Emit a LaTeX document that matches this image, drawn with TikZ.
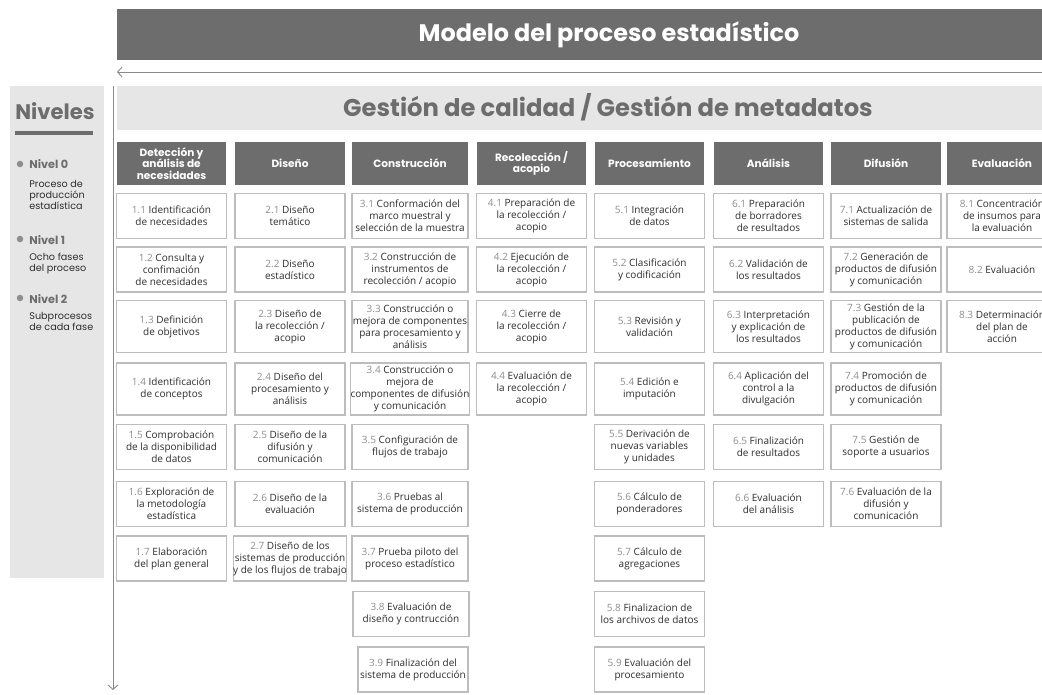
\documentclass[tikz,border=0pt]{standalone}
\usepackage{fontspec}
\setmainfont{Open Sans}
\newfontfamily\titfont{Poppins}
\usepackage{tikz}
\usetikzlibrary{arrows.meta}

\definecolor{grisosc}{HTML}{6D6D6D}
\definecolor{grisclaro}{HTML}{E6E6E6}
\definecolor{grisborde}{HTML}{BDBDBD}
\definecolor{grisnum}{HTML}{8E8E8E}
\definecolor{grisletra}{HTML}{2E2E2E}
\definecolor{grislinea}{HTML}{8A8A8A}

\newcommand{\nro}[1]{\textcolor{grisnum}{#1}}

\begin{document}
\begin{tikzpicture}[x=0.02cm,y=-0.02cm,
  fase/.style={fill=grisosc, text=white, font=\titfont\bfseries\fontsize{6}{6.6}\selectfont,
    align=center, inner sep=0pt, minimum width=2.2cm, minimum height=0.86cm},
  sub/.style={draw=grisborde, line width=0.6pt, fill=white, text=grisletra,
    font=\fontsize{5.7}{6.8}\selectfont, align=center, inner sep=0pt,
    minimum width=2.2cm, minimum height=0.9cm},
  alto/.style={minimum height=1.04cm},
  ancho/.style={minimum width=2.32cm},
  nivel/.style={anchor=west, inner sep=0pt, text=grisosc, font=\titfont\bfseries\fontsize{6.4}{7}\selectfont},
  nota/.style={anchor=north west, inner sep=0pt, align=left, text=grisletra, font=\titfont\fontsize{5.5}{6.2}\selectfont},
  bala/.style={circle, fill=grisnum, inner sep=0pt, minimum size=0.13cm},
  flecha/.style={draw=grislinea, line width=0.5pt, {Straight Barb[length=0.09cm,width=0.2cm]}-}]

  \useasboundingbox (0,0) rectangle (1042,694);
  \clip (0,0) rectangle (1042,694);

     % Encabezados
  \fill[grisosc] (117,9) rectangle (1042,60);
  \node[text=white, font=\titfont\bfseries\fontsize{13.6}{15}\selectfont] (modelo) at (609,35) {Modelo del proceso estadístico};
  \fill[grisclaro] (117,86) rectangle (1042,130);
  \node[text=grisosc, font=\titfont\bfseries\fontsize{13.8}{15}\selectfont] (gestion) at (608,107) {Gestión de calidad / Gestión de metadatos};

     % Ejes
  \coordinate (hizq) at (117,72);
  \coordinate (hder) at (1042,72);
  \coordinate (varr) at (113,86);
  \coordinate (vaba) at (113,690);
  \draw[flecha] (hizq) -- (hder);
  \draw[flecha, -{Straight Barb[length=0.09cm,width=0.2cm]}] (varr) -- (vaba);

     % Niveles
  \fill[grisclaro] (10,86) rectangle (104,578);
  \node[anchor=base west, inner sep=0pt, text=grisosc, font=\titfont\bfseries\fontsize{12}{14}\selectfont] (niveles) at (15,119) {Niveles};
  \fill[grisosc] (15,131) rectangle (93,135);
  \node[bala] (b0) at (20,164) {};
  \node[nivel] (n0) at (29,164) {Nivel 0};
  \node[nota] (t0) at (29,180) {Proceso de\\producción\\estadística};
  \node[bala] (b1) at (20,239) {};
  \node[nivel] (n1) at (29,240) {Nivel 1};
  \node[nota] (t1) at (29,253) {Ocho fases\\del proceso};
  \node[bala] (b2) at (20,298) {};
  \node[nivel] (n2) at (29,299) {Nivel 2};
  \node[nota] (t2) at (29,312) {Subprocesos\\de cada fase};

     % Fases
  \node[fase] (f1) at (171.5,163.5) {Detección y\\análisis de\\necesidades};
  \node[fase] (f2) at (290,163.5) {Diseño};
  \node[fase, ancho] (f3) at (410,163.5) {Construcción};
  \node[fase] (f4) at (531.5,163.5) {Recolección /\\acopio};
  \node[fase] (f5) at (649.5,163.5) {Procesamiento};
  \node[fase] (f6) at (768.5,163.5) {Análisis};
  \node[fase] (f7) at (886,163.5) {Difusión};
  \node[fase] (f8) at (1002,163.5) {Evaluación};

     % Subprocesos 1
  \node[sub] (p11) at (171.5,216) {\nro{1.1} Identificación\\de necesidades};
  \node[sub] (p12) at (171.5,269.5) {\nro{1.2} Consulta y\\confimación\\de necesidades};
  \node[sub, alto] (p13) at (171.5,326.5) {\nro{1.3} Definición\\de objetivos};
  \node[sub, alto] (p14) at (171.5,389) {\nro{1.4} Identificación\\de conceptos};
  \node[sub] (p15) at (171.5,447) {\nro{1.5} Comprobación\\de la disponibilidad\\de datos};
  \node[sub] (p16) at (171.5,504) {\nro{1.6} Exploración de\\la metodología\\estadística};
  \node[sub] (p17) at (171.5,558.5) {\nro{1.7} Elaboración\\del plan general};

     % Subprocesos 2
  \node[sub] (p21) at (290,216) {\nro{2.1} Diseño\\temático};
  \node[sub] (p22) at (290,269.5) {\nro{2.2} Diseño\\estadístico};
  \node[sub, alto] (p23) at (290,326.5) {\nro{2.3} Diseño de\\la recolección /\\acopio};
  \node[sub, alto] (p24) at (290,389) {\nro{2.4} Diseño del\\procesamiento y\\análisis};
  \node[sub] (p25) at (290,447) {\nro{2.5} Diseño de la\\difusión y\\comunicación};
  \node[sub] (p26) at (290,504) {\nro{2.6} Diseño de la\\evaluación};
  \node[sub] (p27) at (290,558.5) {\nro{2.7} Diseño de los\\sistemas de producción\\y de los flujos de trabajo};

     % Subprocesos 3
  \node[sub, ancho] (p31) at (410,216) {\nro{3.1} Conformación del\\marco muestral y\\selección de la muestra};
  \node[sub, ancho] (p32) at (410,269.5) {\nro{3.2} Construcción de\\instrumentos de\\recolección / acopio};
  \node[sub, ancho, alto] (p33) at (410,326.5) {\nro{3.3} Construcción o\\mejora de componentes\\para procesamiento y\\análisis};
  \node[sub, ancho, alto] (p34) at (410,389) {\nro{3.4} Construcción o\\mejora de\\componentes de difusión\\y comunicación};
  \node[sub, ancho] (p35) at (410,447) {\nro{3.5} Configuración de\\flujos de trabajo};
  \node[sub, ancho] (p36) at (410,504) {\nro{3.6} Pruebas al\\sistema de producción};
  \node[sub, ancho] (p37) at (410,558.5) {\nro{3.7} Prueba piloto del\\proceso estadístico};
  \node[sub, ancho] (p38) at (411,614) {\nro{3.8} Evaluación de\\diseño y contrucción};
  \node[sub] (p39) at (413,669.5) {\nro{3.9} Finalización del\\sistema de producción};

     % Subprocesos 4
  \node[sub] (p41) at (531.5,216) {\nro{4.1} Preparación de\\la recolección /\\acopio};
  \node[sub] (p42) at (531.5,269.5) {\nro{4.2} Ejecución de\\la recolección /\\acopio};
  \node[sub, alto] (p43) at (531.5,326.5) {\nro{4.3} Cierre de\\la recolección /\\acopio};
  \node[sub, alto] (p44) at (531.5,389) {\nro{4.4} Evaluación de\\la recolección /\\acopio};

     % Subprocesos 5
  \node[sub] (p51) at (649.5,216) {\nro{5.1} Integración\\de datos};
  \node[sub] (p52) at (649.5,269.5) {\nro{5.2} Clasificación\\y codificación};
  \node[sub, alto] (p53) at (649.5,326.5) {\nro{5.3} Revisión y\\validación};
  \node[sub, alto] (p54) at (649.5,389) {\nro{5.4} Edición e\\imputación};
  \node[sub] (p55) at (649.5,447) {\nro{5.5} Derivación de\\nuevas variables\\y unidades};
  \node[sub] (p56) at (649.5,504) {\nro{5.6} Cálculo de\\ponderadores};
  \node[sub] (p57) at (649.5,558.5) {\nro{5.7} Cálculo de\\agregaciones};
  \node[sub] (p58) at (649.5,614) {\nro{5.8} Finalizacion de\\los archivos de datos};
  \node[sub] (p59) at (649.5,669.5) {\nro{5.9} Evaluación del\\procesamiento};

     % Subprocesos 6
  \node[sub] (p61) at (768.5,216) {\nro{6.1} Preparación\\de borradores\\de resultados};
  \node[sub] (p62) at (768.5,269.5) {\nro{6.2} Validación de\\los resultados};
  \node[sub, alto] (p63) at (768.5,326.5) {\nro{6.3} Interpretación\\y explicación de\\los resultados};
  \node[sub, alto] (p64) at (768.5,389) {\nro{6.4} Aplicación del\\control a la\\divulgación};
  \node[sub] (p65) at (768.5,447) {\nro{6.5} Finalización\\de resultados};
  \node[sub] (p66) at (768.5,504) {\nro{6.6} Evaluación\\del análisis};

     % Subprocesos 7
  \node[sub] (p71) at (886,216) {\nro{7.1} Actualización de\\sistemas de salida};
  \node[sub] (p72) at (886,269.5) {\nro{7.2} Generación de\\productos de difusión\\y comunicación};
  \node[sub, alto] (p73) at (886,326.5) {\nro{7.3} Gestión de la\\publicación de\\productos de difusión\\y comunicación};
  \node[sub, alto] (p74) at (886,389) {\nro{7.4} Promoción de\\productos de difusión\\y comunicación};
  \node[sub] (p75) at (886,447) {\nro{7.5} Gestión de\\soporte a usuarios};
  \node[sub] (p76) at (886,504) {\nro{7.6} Evaluación de la\\difusión y\\comunicación};

     % Subprocesos 8
  \node[sub] (p81) at (1002,216) {\nro{8.1} Concentración\\de insumos para\\la evaluación};
  \node[sub] (p82) at (1002,269.5) {\nro{8.2} Evaluación};
  \node[sub, alto] (p83) at (1002,326.5) {\nro{8.3} Determinación\\del plan de\\acción};

\end{tikzpicture}
\end{document}
